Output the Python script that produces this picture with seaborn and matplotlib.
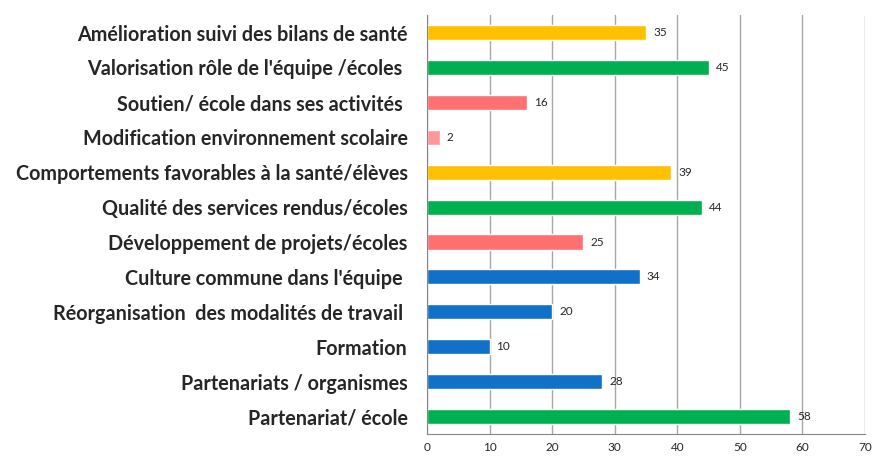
import pandas as pd
import seaborn as sns
import matplotlib.pyplot as plt
import numpy as np

categories = [
    "Amélioration suivi des bilans de santé",
    "Valorisation rôle de l'équipe /écoles ",
    "Soutien/ école dans ses activités ",
    "Modification environnement scolaire",
    "Comportements favorables à la santé/élèves",
    "Qualité des services rendus/écoles",
    "Développement de projets/écoles",
    "Culture commune dans l'équipe ",
    "Réorganisation  des modalités de travail ",
    "Formation",
    "Partenariats / organismes",
    "Partenariat/ école",
]
values = [35, 45, 16, 2, 39, 44, 25, 34, 20, 10, 28, 58]
colors = ["#FFC000", "#00B050", "#FF7070", "#FF9797", "#FFC000", "#00B050",
          "#FF7070", "#1170C8", "#1170C8", "#1170C8", "#1170C8", "#00B050"]

df = pd.DataFrame({"Categorie": categories, "Valeur": values})

sns.set_style("white")
plt.rcParams['font.family'] = ['Lato', 'DejaVu Sans']

fig = plt.figure(figsize=(8.74, 4.57), dpi=100)
ax = fig.add_axes([0.4886, 0.0503, 0.5011, 0.9167])

sns.barplot(data=df, x="Valeur", y="Categorie", hue="Categorie", palette=colors,
            legend=False, width=0.43, ax=ax, saturation=1)

for c in ax.containers:
    ax.bar_label(c, padding=5, fontsize=8.5)

ax.set_xlim(0, 70)
ax.set_ylim(11.5, -0.5)
ax.set_xticks(np.arange(0, 71, 10))
ax.set_xlabel("")
ax.set_ylabel("")
ax.grid(axis="x", color="#A6A6A6", linewidth=1)
ax.set_axisbelow(True)
for s in ["top", "right"]:
    ax.spines[s].set_visible(False)
for s in ["left", "bottom"]:
    ax.spines[s].set_color("#868686")
ax.set_yticks(np.arange(-0.5, 12, 1), minor=True)
ax.tick_params(axis="y", which="major", length=0, labelsize=14.2, pad=14)
ax.tick_params(axis="y", which="minor", length=5, color="#868686", direction="out")
ax.tick_params(axis="x", length=4, color="#868686", labelsize=8.5, pad=2)
for t in ax.get_yticklabels():
    t.set_fontweight("bold")

fig.savefig("out.png", dpi=100)
